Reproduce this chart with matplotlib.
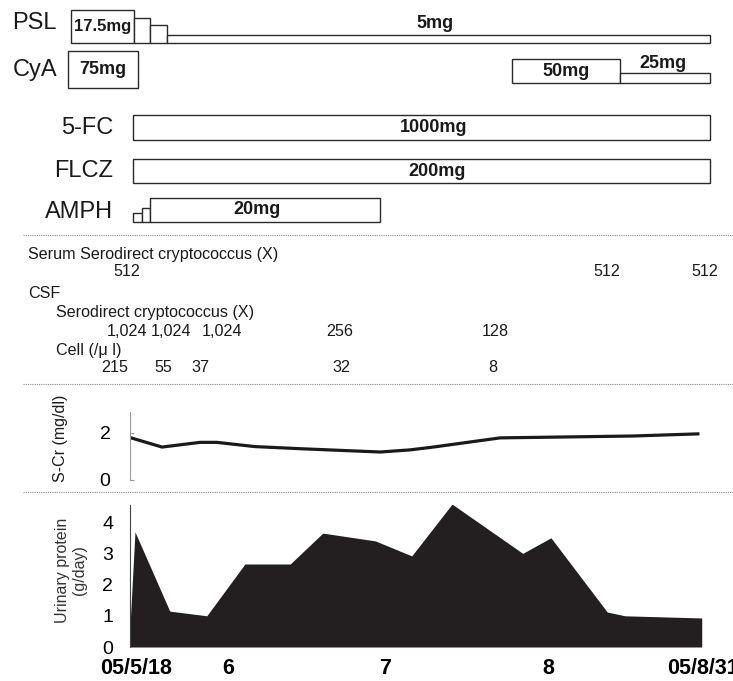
import matplotlib
matplotlib.use("Agg")
import matplotlib.pyplot as plt

plt.rcParams['font.family'] = ['Liberation Sans', 'DejaVu Sans']

# time axis: days after 05/5/18
# drug courses (start day, end day, dose text)
psl_start = [-10.7, 0.7, 3.6, 6.7]
psl_end = [0.7, 3.6, 6.7, 105]
psl_dose = ['17.5mg', '', '', '5mg']
cya_start = [-11.2, 69.2, 88.7]
cya_end = [1.45, 88.7, 105]
cya_dose = ['75mg', '50mg', '25mg']
fc_start = [0.5]
fc_end = [105]
fc_dose = ['1000mg']
flcz_start = [0.5]
flcz_end = [105]
flcz_dose = ['200mg']
amph_start = [0.5, 2.17, 3.62]
amph_end = [2.17, 3.62, 45.3]
amph_dose = ['', '', '20mg']

# laboratory table
serum_days = [-0.5, 86.3, 104.0]
serum_titer = ['512', '512', '512']
csf_titer_days = [-0.5, 7.4, 16.7, 38.0, 66.1]
csf_titer = ['1,024', '1,024', '1,024', '256', '128']
cell_days = [-2.7, 6.0, 12.7, 38.2, 65.7]
cell_count = ['215', '55', '37', '32', '8']

# serum creatinine (mg/dl)
scr_days = [0.2, 5.8, 12.7, 15.7, 22.6, 30.8, 41.1, 45.3, 50.7, 54.9, 67.0, 79.1, 91.1, 102.8]
scr_vals = [1.79, 1.4, 1.6, 1.6, 1.42, 1.33, 1.23, 1.19, 1.28, 1.4, 1.79, 1.83, 1.87, 1.96]

# urinary protein (g/day)
up_days = [-0.2, 0.9, 7.2, 13.9, 20.8, 29.0, 34.9, 44.4, 51.0, 58.3, 71.1, 76.2, 86.4, 89.6, 103.5]
up_vals = [0.0, 3.69, 1.15, 1.0, 2.66, 2.66, 3.65, 3.4, 2.92, 4.58, 3.0, 3.5, 1.12, 1.0, 0.93]

date_ticks = [1.1, 17.7, 46.2, 75.7, 103.7]
date_labels = ['05/5/18', '6', '7', '8', '05/8/31']

W, H = 733, 681
X0 = 130        # pixel of day 0
PX_DAY = 5.524  # pixels per day
xlim_full = (-X0 / PX_DAY, (W - X0) / PX_DAY)

fig = plt.figure(figsize=(W / 100, H / 100), dpi=100)

# overlay in pixel units for labels and separators
ov = fig.add_axes([0, 0, 1, 1])
ov.set_xlim(0, W)
ov.set_ylim(H, 0)
ov.axis('off')

# timeline axes: x in days, y in pixels
tl = fig.add_axes([0, 0, 1, 1])
tl.set_xlim(*xlim_full)
tl.set_ylim(H, 0)
tl.axis('off')
tl.patch.set_alpha(0)

edge = '#2a2a2a'


def draw_row(starts, ends, tops, bottoms):
    for s, e, t, b in zip(starts, ends, tops, bottoms):
        tl.bar(s, b - t, width=e - s, bottom=t, align='edge',
               facecolor='white', edgecolor=edge, linewidth=1.0)


draw_row(psl_start, psl_end, [10, 18, 25, 35], [43] * 4)
draw_row(cya_start, cya_end, [51, 59, 73], [88, 83, 83])
draw_row(fc_start, fc_end, [115], [140])
draw_row(flcz_start, flcz_end, [159], [183])
draw_row(amph_start, amph_end, [213, 208, 198], [222] * 3)

bold = dict(fontsize=13, fontweight='bold', color='#1a1a1a', ha='center', va='center')
tl.text((psl_start[0] + psl_end[0]) / 2, 27, psl_dose[0], **dict(bold, fontsize=12))
tl.text(55.2, 24, psl_dose[3], **bold)
tl.text((cya_start[0] + cya_end[0]) / 2, 70, cya_dose[0], **bold)
tl.text((cya_start[1] + cya_end[1]) / 2, 72, cya_dose[1], **bold)
tl.text(96.5, 63, cya_dose[2], **bold)
tl.text(55.0, 127, fc_dose[0], **bold)
tl.text(55.5, 171, flcz_dose[0], **bold)
tl.text(23.0, 210, amph_dose[2], **bold)

drug = dict(fontsize=17, color='#1a1a1a', va='center', ha='right')
ov.text(57, 23, 'PSL', **drug)
ov.text(57, 70, 'CyA', **drug)
ov.text(113, 128, '5-FC', **drug)
ov.text(113, 171, 'FLCZ', **drug)
ov.text(113, 212, 'AMPH', **drug)

# dotted separators
for y in [235, 384, 492]:
    ov.plot([23, W], [y, y], ls=(0, (1, 1)), color='#888888', lw=0.8)

# table
tab = dict(fontsize=11.6, color='#1a1a1a', va='center')
ov.text(28, 254, 'Serum Serodirect cryptococcus (X)', **tab)
ov.text(28, 294, 'CSF', **tab)
ov.text(56, 312, 'Serodirect cryptococcus (X)', **tab)
ov.text(56, 350, 'Cell (/\u03bc l)', **tab)
for d, v in zip(serum_days, serum_titer):
    tl.text(d, 272, v, ha='center', **tab)
for d, v in zip(csf_titer_days, csf_titer):
    tl.text(d, 332, v, ha='center', **tab)
for d, v in zip(cell_days, cell_count):
    tl.text(d, 368, v, ha='center', **tab)

# S-Cr panel
ax1 = fig.add_axes([X0 / W, (H - 480) / H, (W - X0) / W, (480 - 412) / H])
ax1.patch.set_alpha(0)
ax1.plot(scr_days, scr_vals, color='#1a1a1a', lw=2.3, solid_joinstyle='round')
ax1.set_xlim(0, xlim_full[1])
ax1.set_ylim(0, 2.89)
for s in ['top', 'right', 'bottom']:
    ax1.spines[s].set_visible(False)
ax1.spines['left'].set_color('#999999')
ax1.spines['left'].set_linewidth(0.8)
ax1.set_yticks([0, 2])
ax1.tick_params(axis='y', direction='in', length=3, color='#999999', labelsize=14, pad=14)
ax1.set_xticks([])
ov.text(60, 438, 'S-Cr (mg/dl)', rotation=90, fontsize=11.5, color='#1a1a1a', ha='center', va='center')

# urinary protein panel
ax2 = fig.add_axes([X0 / W, (H - 647) / H, (W - X0) / W, (647 - 505) / H])
ax2.patch.set_alpha(0)
ax2.fill_between(up_days, 0, up_vals, color='#231f20', lw=0)
ax2.set_xlim(0, xlim_full[1])
ax2.set_ylim(0, 4.55)
for s in ['top', 'right', 'bottom']:
    ax2.spines[s].set_visible(False)
ax2.spines['left'].set_color('#444444')
ax2.spines['left'].set_linewidth(0.8)
ax2.set_yticks([0, 1, 2, 3, 4])
ax2.tick_params(axis='y', length=0, labelsize=14, pad=12)
ax2.set_xticks(date_ticks)
ax2.set_xticklabels(date_labels, fontsize=15.5, fontweight='bold')
ax2.tick_params(axis='x', length=0, pad=8)
ov.text(71, 570, 'Urinary protein\n(g/day)', rotation=90, fontsize=11.5, color='#333333',
        ha='center', va='center', linespacing=1.1)

fig.savefig('out.png', dpi=100)
